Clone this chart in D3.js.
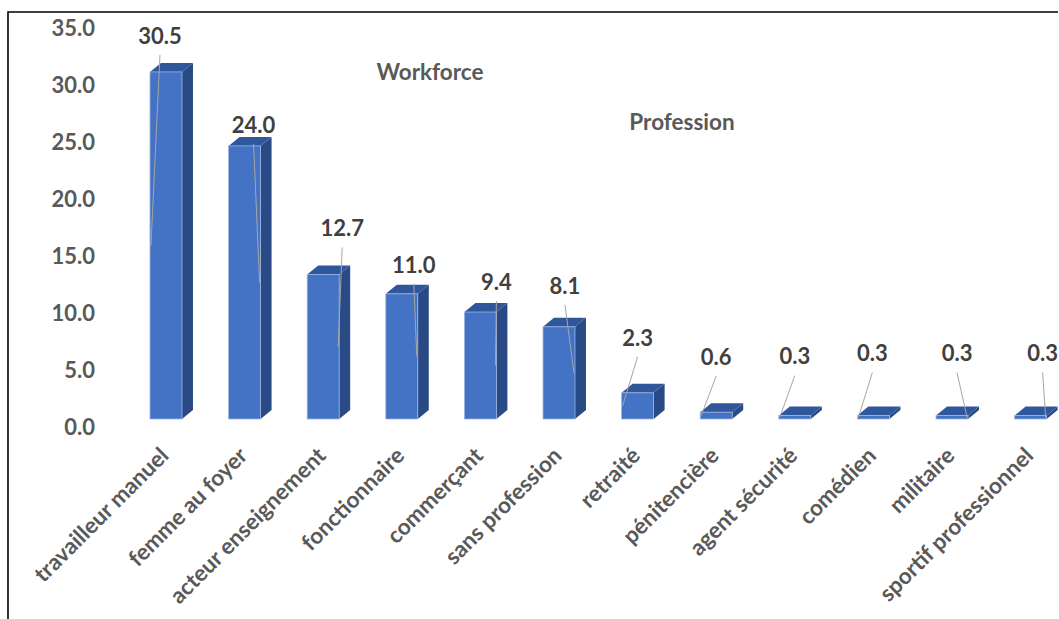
<!DOCTYPE html>
<html>
<head>
<meta charset="utf-8">
<script src="https://cdn.jsdelivr.net/npm/d3@7"></script>
<style>
  html, body { margin: 0; padding: 0; background: #fff; }
  svg { display: block; }
</style>
</head>
<body>
<svg id="chart" width="1059" height="619"></svg>
<script>
// ---- data ----
const categories = ["travailleur manuel", "femme au foyer", "acteur enseignement", "fonctionnaire",
  "commerçant", "sans profession", "retraité", "pénitencière", "agent sécurité", "comédien",
  "militaire", "sportif professionnel"];
const values = [30.5, 24.0, 12.7, 11.0, 9.4, 8.1, 2.3, 0.6, 0.3, 0.3, 0.3, 0.3];
const yTicks = [0, 5, 10, 15, 20, 25, 30, 35];
const titleTop = "Workforce";
const titleSub = "Profession";
// manual data-label nudges (layout, px) relative to bar top centre
const labelNudges = [[-6, -36], [9, -21], [19, -46], [12, -29], [16, -30], [6, -41],
  [0, -55], [0, -55], [0, -59], [-1, -62], [5, -62], [12, -62]];

// ---- layout ----
const svg = d3.select("#chart");
const W = 1059, H = 619;
const depthX = 11, depthY = -9;
const fontFam = "Lato, 'Open Sans', 'DejaVu Sans', sans-serif";

const x = d3.scaleBand().domain(categories).range([126.4, 1070.2])
  .paddingInner(0.593).paddingOuter(0.3);
const y = d3.scaleLinear().domain([0, 35]).range([419, 20.7]);       // front faces
const yAxisScale = d3.scaleLinear().domain([0, 35]).range([427, 28.7]); // tick labels

// frame (top and left edges)
svg.append("path")
  .attr("d", `M8,${H} L8,12 L1058,12`)
  .attr("fill", "none").attr("stroke", "#000").attr("stroke-width", 1.6);

// y axis
const ax = svg.append("g").attr("transform", "translate(95,0)")
  .call(d3.axisLeft(yAxisScale).tickValues(yTicks).tickFormat(d3.format(".1f")).tickSize(0).tickPadding(0));
ax.select(".domain").remove();
ax.selectAll("text").attr("font-family", fontFam).attr("font-size", 22).attr("font-weight", "bold")
  .attr("fill", "#595959");

// bars
const bw = x.bandwidth();
const bars = svg.append("g").selectAll("g").data(values).join("g");
// side face
bars.append("path")
  .attr("d", (d, i) => {
    const x1 = x(categories[i]) + bw, yt = y(d), yb = y(0);
    return `M${x1},${yt} L${x1 + depthX},${yt + depthY} L${x1 + depthX},${yb + depthY} L${x1},${yb} Z`;
  })
  .attr("fill", "#294a84");
// top face
bars.append("path")
  .attr("d", (d, i) => {
    const x0 = x(categories[i]), yt = y(d);
    return `M${x0},${yt} L${x0 + depthX},${yt + depthY} L${x0 + bw + depthX},${yt + depthY} L${x0 + bw},${yt} Z`;
  })
  .attr("fill", "#30579c");
// front face
bars.append("rect")
  .attr("x", (d, i) => x(categories[i]))
  .attr("y", d => y(d))
  .attr("width", bw)
  .attr("height", d => y(0) - y(d))
  .attr("fill", "#4472c4")
  .attr("stroke", "#9db6e2").attr("stroke-width", 0.8);

// leader lines + data labels
const cx = i => x(categories[i]) + bw / 2;
const lab = svg.append("g");
values.forEach((v, i) => {
  const lx = cx(i) + labelNudges[i][0];
  const ly = y(v) + labelNudges[i][1];
  const side = labelNudges[i][0] > 0 ? 1 : -1;
  lab.append("line")
    .attr("x1", lx).attr("y1", ly + 19)
    .attr("x2", cx(i) + side * 15).attr("y2", y(v / 2))
    .attr("stroke", "#a6a6a6").attr("stroke-width", 1);
  lab.append("text")
    .attr("x", lx).attr("y", ly).attr("dy", "0.35em")
    .attr("text-anchor", "middle")
    .attr("font-family", fontFam).attr("font-size", 22).attr("font-weight", "bold")
    .attr("fill", "#404040")
    .text(d3.format(".1f")(v));
});

// category labels
svg.append("g").selectAll("text").data(categories).join("text")
  .attr("transform", d => `translate(${x(d) + bw / 2 + 4},${457}) rotate(-45)`)
  .attr("text-anchor", "end")
  .attr("font-family", fontFam).attr("font-size", 22.5).attr("font-weight", "bold")
  .attr("fill", "#595959")
  .text(d => d);

// titles
svg.append("text").attr("x", 430).attr("y", 72).attr("dy", "0.35em").attr("text-anchor", "middle")
  .attr("font-family", fontFam).attr("font-size", 22.5).attr("font-weight", "bold").attr("fill", "#595959")
  .text(titleTop);
svg.append("text").attr("x", 682).attr("y", 122).attr("dy", "0.35em").attr("text-anchor", "middle")
  .attr("font-family", fontFam).attr("font-size", 22.5).attr("font-weight", "bold").attr("fill", "#595959")
  .text(titleSub);
</script>
</body>
</html>
